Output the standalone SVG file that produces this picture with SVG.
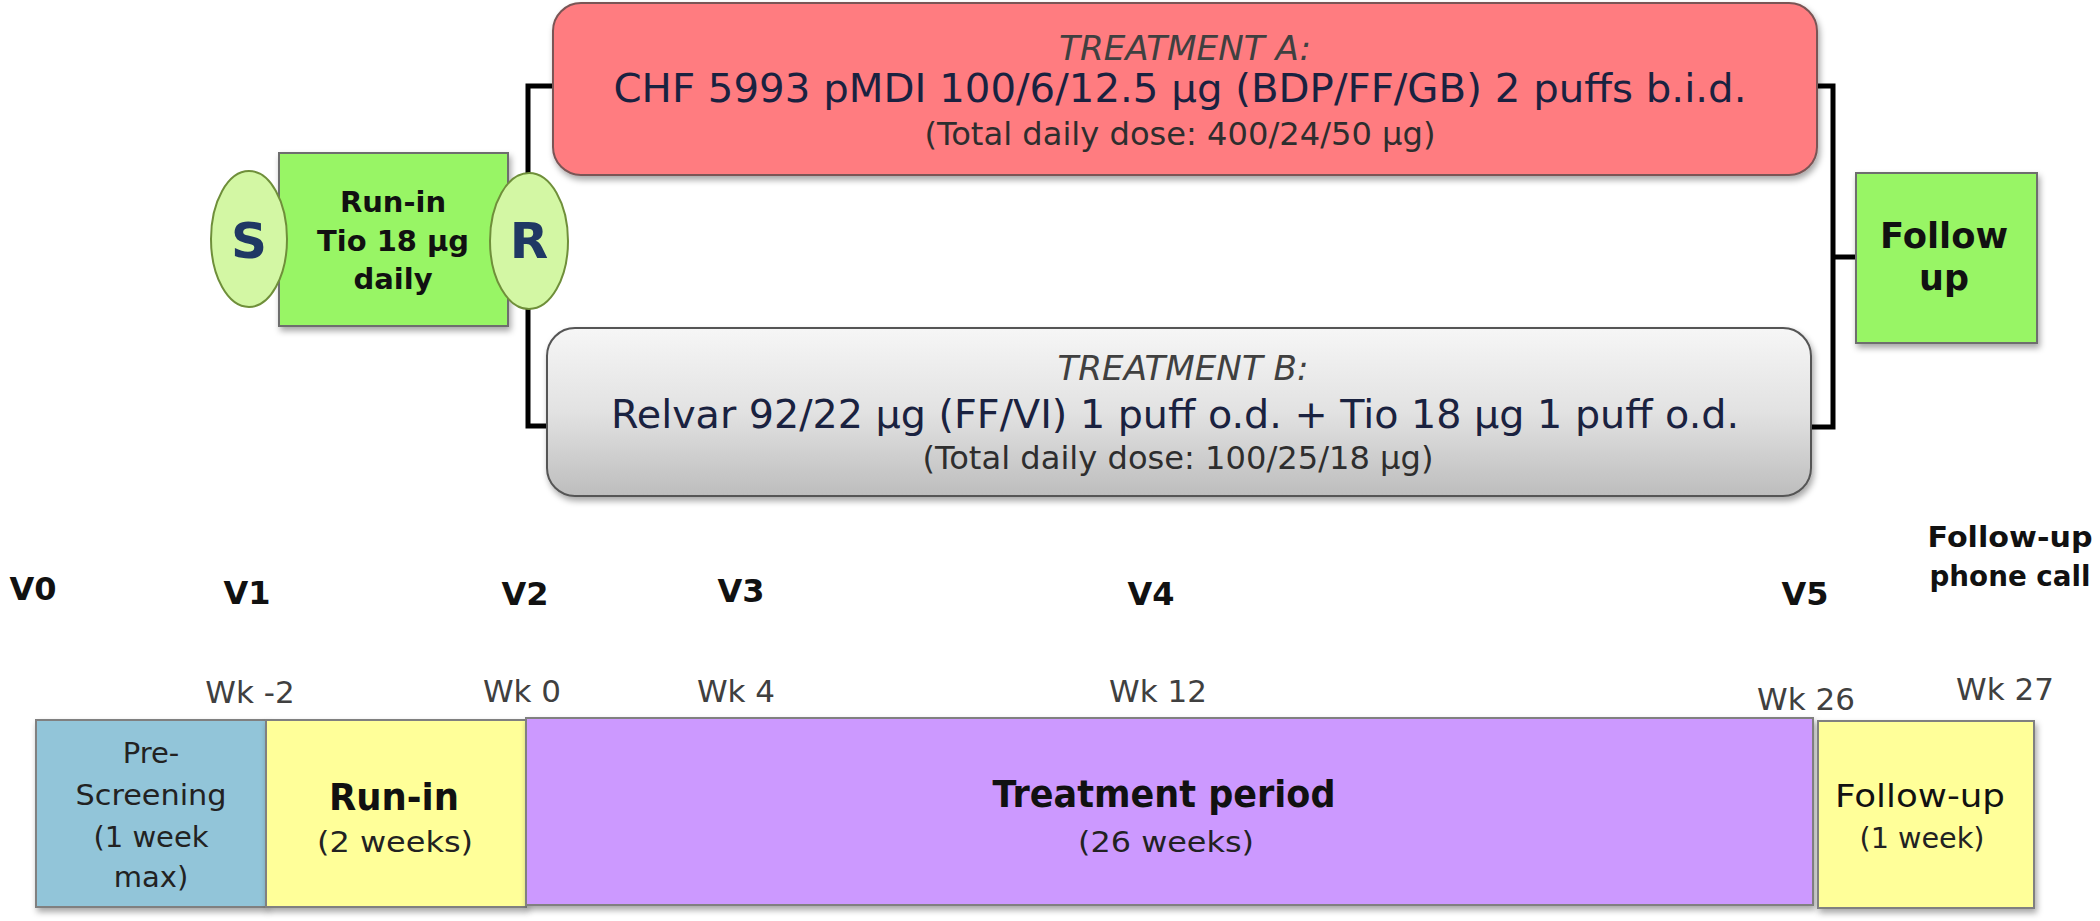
<svg xmlns="http://www.w3.org/2000/svg" width="2100" height="921" viewBox="0 0 2100 921">
<defs>
<linearGradient id="grayGrad" x1="0" y1="0" x2="0" y2="1">
<stop offset="0" stop-color="#f6f6f6"/>
<stop offset="0.5" stop-color="#e2e2e2"/>
<stop offset="1" stop-color="#bdbdbd"/>
</linearGradient>
<filter id="shadow" x="-10%" y="-10%" width="120%" height="130%">
<feDropShadow dx="2" dy="4" stdDeviation="3" flood-color="#000" flood-opacity="0.35"/>
</filter>
</defs>
<style>
text{font-family:"DejaVu Sans","Liberation Sans",sans-serif;text-anchor:middle}
.b{font-weight:bold}
.it{font-style:italic;fill:#404040}
.main{fill:#1a2240}
.sub{fill:#2e2e2e}
.wk{fill:#404040;font-size:31px}
.v{font-weight:bold;font-size:32px;fill:#111}
.green{fill:#98f565;stroke:#6e6e6e;stroke-width:2}
.ell{fill:#d3f7a4;stroke:#6f8f3a;stroke-width:2}
.bar{stroke:#808080;stroke-width:2}
.conn{fill:none;stroke:#000;stroke-width:5;stroke-linejoin:miter}
</style>
<rect width="2100" height="921" fill="#fff"/>

<g id="connectors">
<path class="conn" d="M553,86 H528 V426 H549"/>
<path class="conn" d="M1817,86 H1833 V427 H1811"/>
<path class="conn" d="M1833,257 H1856"/>
</g>

<g id="runin-top">
<rect class="green" x="279" y="153" width="229" height="173" filter="url(#shadow)"/>
<text class="b" x="393" y="212" font-size="29" fill="#111">Run-in</text>
<text class="b" x="393" y="251" font-size="29" fill="#111" textLength="152" lengthAdjust="spacingAndGlyphs">Tio 18 µg</text>
<text class="b" x="393" y="289" font-size="29" fill="#111">daily</text>
</g>

<g id="S">
<ellipse class="ell" cx="249" cy="239" rx="38" ry="68"/>
<text class="b" x="249" y="258" font-size="50" fill="#1f3864">S</text>
</g>

<g id="R">
<ellipse class="ell" cx="529" cy="241" rx="39" ry="68"/>
<text class="b" x="529" y="258" font-size="50" fill="#1f3864">R</text>
</g>

<g id="treatmentA">
<rect x="553" y="3" width="1264" height="172" rx="28" fill="#ff7c80" stroke="#7a5555" stroke-width="2" filter="url(#shadow)"/>
<text class="it" x="1185" y="60" font-size="33" textLength="252" lengthAdjust="spacingAndGlyphs">TREATMENT A:</text>
<text class="main" x="1180" y="102" font-size="39" textLength="1133" lengthAdjust="spacingAndGlyphs">CHF 5993 pMDI 100/6/12.5 µg (BDP/FF/GB) 2 puffs b.i.d.</text>
<text class="sub" x="1180" y="145" font-size="32" textLength="511" lengthAdjust="spacingAndGlyphs">(Total daily dose: 400/24/50 µg)</text>
</g>

<g id="treatmentB">
<rect x="547" y="328" width="1264" height="168" rx="28" fill="url(#grayGrad)" stroke="#555" stroke-width="2" filter="url(#shadow)"/>
<text class="it" x="1183" y="380" font-size="33" textLength="251" lengthAdjust="spacingAndGlyphs">TREATMENT B:</text>
<text class="main" x="1175" y="428" font-size="39" textLength="1128" lengthAdjust="spacingAndGlyphs">Relvar 92/22 µg (FF/VI) 1 puff o.d. + Tio 18 µg 1 puff o.d.</text>
<text class="sub" x="1178" y="469" font-size="32" textLength="511" lengthAdjust="spacingAndGlyphs">(Total daily dose: 100/25/18 µg)</text>
</g>

<g id="followup-top">
<rect class="green" x="1856" y="173" width="181" height="170" filter="url(#shadow)"/>
<text class="b" x="1944" y="248" font-size="35" fill="#111" textLength="128" lengthAdjust="spacingAndGlyphs">Follow</text>
<text class="b" x="1944" y="290" font-size="35" fill="#111">up</text>
</g>

<g id="visits">
<text class="v" x="33" y="600">V0</text>
<text class="v" x="247" y="604">V1</text>
<text class="v" x="525" y="605">V2</text>
<text class="v" x="741" y="602">V3</text>
<text class="v" x="1151" y="605">V4</text>
<text class="v" x="1805" y="605">V5</text>
<text class="b" x="2010" y="547" font-size="29" fill="#111" textLength="165" lengthAdjust="spacingAndGlyphs">Follow-up</text>
<text class="b" x="2010" y="586" font-size="29" fill="#111" textLength="161" lengthAdjust="spacingAndGlyphs">phone call</text>
</g>

<g id="weeks">
<text class="wk" x="250" y="703">Wk -2</text>
<text class="wk" x="522" y="702">Wk 0</text>
<text class="wk" x="736" y="702">Wk 4</text>
<text class="wk" x="1158" y="702">Wk 12</text>
<text class="wk" x="1806" y="710">Wk 26</text>
<text class="wk" x="2005" y="700">Wk 27</text>
</g>

<g id="prescreening">
<rect class="bar" x="36" y="720" width="230" height="187" fill="#92c5d9" filter="url(#shadow)"/>
<text x="151" y="763" font-size="29" fill="#222">Pre-</text>
<text x="151" y="805" font-size="29" fill="#222" textLength="151" lengthAdjust="spacingAndGlyphs">Screening</text>
<text x="151" y="847" font-size="29" fill="#222">(1 week</text>
<text x="151" y="887" font-size="29" fill="#222">max)</text>
</g>

<g id="runin-bar">
<rect class="bar" x="266" y="720" width="260" height="187" fill="#ffff99" filter="url(#shadow)"/>
<text class="b" x="394" y="810" font-size="38" fill="#111" textLength="130" lengthAdjust="spacingAndGlyphs">Run-in</text>
<text x="395" y="852" font-size="29" fill="#222" textLength="156" lengthAdjust="spacingAndGlyphs">(2 weeks)</text>
</g>

<g id="treatment-bar">
<rect class="bar" x="526" y="718" width="1287" height="187" fill="#cc99ff" filter="url(#shadow)"/>
<text class="b" x="1164" y="807" font-size="38" fill="#111" textLength="343" lengthAdjust="spacingAndGlyphs">Treatment period</text>
<text x="1166" y="852" font-size="29" fill="#222" textLength="176" lengthAdjust="spacingAndGlyphs">(26 weeks)</text>
</g>

<g id="followup-bar">
<rect class="bar" x="1818" y="721" width="216" height="187" fill="#ffff99" filter="url(#shadow)"/>
<text x="1920" y="807" font-size="32" fill="#111" textLength="170" lengthAdjust="spacingAndGlyphs">Follow-up</text>
<text x="1922" y="848" font-size="28" fill="#222" textLength="125" lengthAdjust="spacingAndGlyphs">(1 week)</text>
</g>
</svg>
